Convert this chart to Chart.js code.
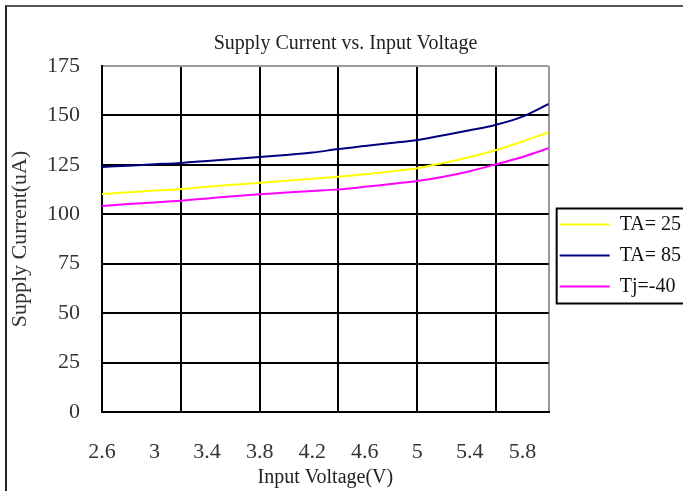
<!DOCTYPE html>
<html>
<head>
<meta charset="utf-8">
<script src="https://cdn.jsdelivr.net/npm/chart.js@4"></script>
<style>
  html, body { margin: 0; padding: 0; background: #fff; overflow: hidden; }
  #frame { position: absolute; left: 5px; top: 5px; width: 700px; height: 500px;
           border-left: 2px solid #222; border-top: 2px solid #555; }
  #wrap { position: absolute; left: 0; top: 0; width: 691px; height: 491px; }
</style>
</head>
<body>
<div id="frame"></div>
<div id="wrap"><canvas id="chart"></canvas></div>
<script>
// datos
const voltages = [2.6, 2.8, 3.0, 3.2, 3.4, 3.6, 3.8, 4.0, 4.2, 4.4, 4.6, 4.8, 5.0, 5.2, 5.4, 5.6, 5.8, 6.0];
const ta25  = [110.3, 111.1, 112.0, 112.8, 113.9, 115.0, 116.0, 117.0, 118.0, 119.0, 120.2, 121.7, 123.3, 126.0, 129.0, 132.5, 136.8, 141.5];
const ta85  = [123.9, 124.6, 125.3, 126.0, 127.0, 128.0, 129.0, 130.0, 131.2, 133.0, 134.5, 136.0, 137.6, 140.0, 142.5, 145.3, 149.4, 155.8];
const tjm40 = [104.2, 105.2, 106.0, 106.9, 108.0, 109.1, 110.1, 111.0, 111.8, 112.6, 113.9, 115.3, 116.8, 119.0, 121.8, 125.3, 129.0, 133.4];

const xLabelTicks = [2.6, 3.0, 3.4, 3.8, 4.2, 4.6, 5.0, 5.4, 5.8];
const xGridTicks  = [2.6, 3.2, 3.8, 4.4, 5.0, 5.6, 6.0];
const yTicks      = [0, 25, 50, 75, 100, 125, 150, 175];

const chartTitle = 'Supply Current vs. Input Voltage';
const xTitle = 'Input Voltage(V)';
const yTitle = 'Supply Current(uA)';

const serif = '"Liberation Serif", "Times New Roman", serif';
const r1 = v => Math.round(v * 10) / 10;
const xAllTicks = [...new Set([...xLabelTicks, ...xGridTicks].map(r1))].sort((a, b) => a - b);

// marco de la leyenda (Chart.js no lo dibuja)
const legendBorder = {
    id: 'legendBorder',
    afterDraw(chart) {
        const boxes = chart.legend.legendHitBoxes;
        if (!boxes || !boxes.length) return;
        const first = boxes[0], last = boxes[boxes.length - 1];
        const ctx = chart.ctx;
        ctx.save();
        ctx.strokeStyle = '#000';
        ctx.lineWidth = 2;
        const left = first.left - 3;
        const top = first.top - 6;
        const bottom = last.top + last.height + 7;
        ctx.strokeRect(left, top, chart.width + 10 - left, bottom - top);
        ctx.restore();
    }
};

const ds = (label, data, color) => ({
    label, data: voltages.map((v, i) => ({ x: v, y: data[i] })),
    borderColor: color, backgroundColor: color,
    borderWidth: 2, pointRadius: 0, tension: 0.3, fill: false
});

new Chart(document.getElementById('chart'), {
    type: 'line',
    data: {
        datasets: [
            ds('TA= 25', ta25, '#ffff00'),
            ds('TA= 85', ta85, '#000080'),
            ds('Tj=-40', tjm40, '#ff00ff')
        ]
    },
    options: {
        responsive: true,
        maintainAspectRatio: false,
        animation: false,
        layout: { padding: 0 },
        plugins: {
            title: {
                display: true, text: chartTitle, color: '#222',
                font: { family: serif, size: 20, weight: 'normal' },
                padding: { top: 32, bottom: 10 }
            },
            legend: {
                position: 'right',
                title: { display: true, text: '', padding: 0, font: { size: 10, lineHeight: 2 } },
                labels: {
                    color: '#111', font: { family: serif, size: 20 },
                    boxWidth: 50, boxHeight: 0, padding: 11
                }
            },
            tooltip: { enabled: false }
        },
        scales: {
            x: {
                type: 'linear', min: 2.6, max: 6.0,
                afterBuildTicks: axis => { axis.ticks = xAllTicks.map(v => ({ value: v })); },
                afterFit: axis => { axis.height = 79; },
                border: { display: true, color: '#000', width: 2 },
                grid: {
                    drawTicks: false, lineWidth: 2,
                    color: c => {
                        const v = r1(c.tick.value);
                        if (!xGridTicks.includes(v)) return 'rgba(0,0,0,0)';
                        return v === 6.0 ? '#999' : '#000';
                    }
                },
                ticks: {
                    autoSkip: false, maxRotation: 0, padding: 27, color: '#333',
                    font: { family: serif, size: 22 },
                    callback: v => xLabelTicks.includes(r1(v)) ? String(r1(v)) : ''
                },
                title: {
                    display: true, text: xTitle, color: '#222',
                    font: { family: serif, size: 20 }, padding: { top: 0, bottom: 1 }
                }
            },
            y: {
                min: 0, max: 175,
                afterBuildTicks: axis => { axis.ticks = yTicks.map(v => ({ value: v })); },
                afterFit: axis => { axis.width = 102; },
                border: { display: true, color: '#000', width: 2 },
                grid: {
                    drawTicks: false, lineWidth: 2,
                    color: c => c.tick.value === 175 ? '#999' : '#000'
                },
                ticks: {
                    padding: 22, color: '#333',
                    font: { family: serif, size: 22 }
                },
                title: {
                    display: true, text: yTitle, color: '#333',
                    font: { family: serif, size: 22 }, padding: { top: 7, bottom: 0 }
                }
            }
        }
    },
    plugins: [legendBorder]
});
</script>
</body>
</html>
